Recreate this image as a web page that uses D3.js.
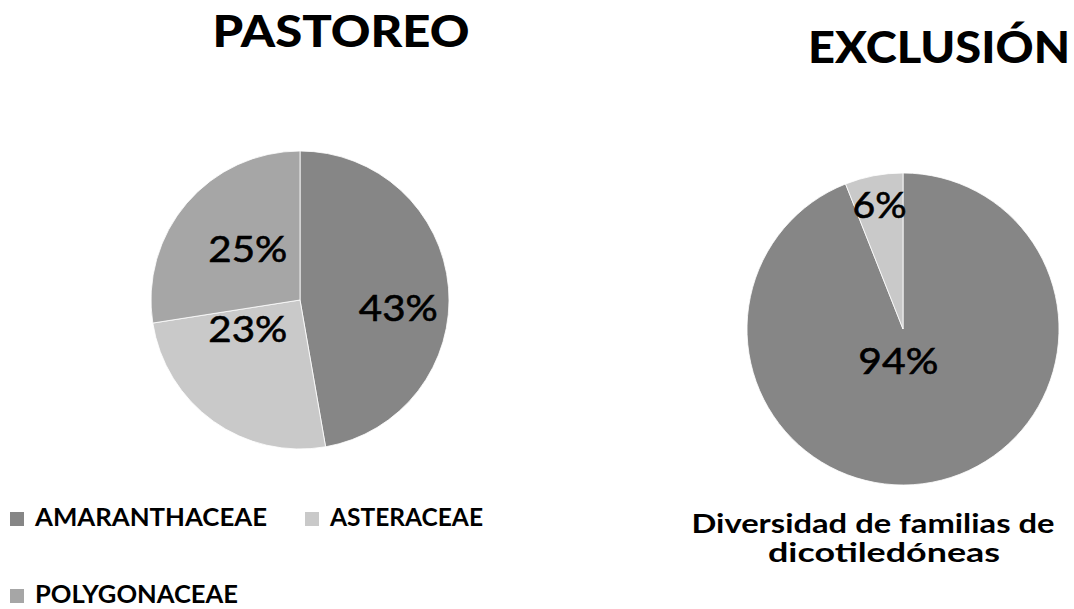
<!DOCTYPE html>
<html>
<head>
<meta charset="utf-8">
<script src="https://cdn.jsdelivr.net/npm/d3@7"></script>
<style>
  body { margin: 0; background: #fff; }
  svg text { font-family: Lato, "Open Sans", sans-serif; fill: #000; }
</style>
</head>
<body>
<svg id="chart" width="1074" height="609"></svg>
<script>
// data
var families = ["AMARANTHACEAE", "ASTERACEAE", "POLYGONACEAE"]
var pastoreo = [43, 23, 25]
var exclusion = [94, 6, 0]
var titles = ["PASTOREO", "EXCLUSIÓN"]
var subtitle = ["Diversidad de familias de", "dicotiledóneas"]

// layout
var colors = d3.scaleOrdinal().domain(families).range(["#868686", "#c9c9c9", "#a6a6a6"])
var pies = [
  {vals: pastoreo, cx: 300, cy: 300, r: 149, title: titles[0], tx: 341, ty: 47, tw: 257,
   lab: [[0.66, 0.05, 79], [-0.35, 0.19, 79], [-0.35, -0.35, 79]]},
  {vals: exclusion, cx: 903, cy: 329, r: 156, title: titles[1], tx: 939, ty: 63, tw: 262,
   lab: [[-0.03, 0.2, 80], [-0.15, -0.8, 54], null]}
]

var svg = d3.select('#chart')
var pie = d3.pie().sort(null).value(function(d) { return d.v })

pies.forEach(function(p) {
  var data = p.vals.map(function(v, i) { return {v: v, k: families[i]} })
  var arc = d3.arc().innerRadius(0).outerRadius(p.r)
  var g = svg.append('g').attr('transform', 'translate(' + p.cx + ',' + p.cy + ')')
  var arcs = pie(data)
  g.selectAll('path').data(arcs.filter(function(a) { return a.data.v > 0 }))
    .enter().append('path')
      .attr('d', arc)
      .attr('fill', function(a) { return colors(a.data.k) })
      .attr('stroke', '#fff')
      .attr('stroke-width', 0.8)
  //labels, placed like excel's best fit (offsets in radius units)
  arcs.forEach(function(a, i) {
    if (!p.lab[i] || a.data.v <= 0) return
    g.append('text')
      .attr('x', p.lab[i][0] * p.r)
      .attr('y', p.lab[i][1] * p.r)
      .attr('text-anchor', 'middle')
      .attr('dominant-baseline', 'central')
      .attr('font-size', 36)
      .attr('stroke', '#000').attr('stroke-width', 0.6)
      .attr('textLength', p.lab[i][2])
      .attr('lengthAdjust', 'spacingAndGlyphs')
      .text(a.data.v + '%')
  })
  svg.append('text')
    .attr('x', p.tx).attr('y', p.ty)
    .attr('text-anchor', 'middle')
    .attr('font-size', 44).attr('font-weight', 900)
    .attr('textLength', p.tw).attr('lengthAdjust', 'spacingAndGlyphs')
    .text(p.title)
})

// legend
var legPos = [[10, 526, 232], [305, 526, 153], [10, 603, 203]]
families.forEach(function(f, i) {
  var lp = legPos[i]
  svg.append('rect')
    .attr('x', lp[0]).attr('y', lp[1] - 14)
    .attr('width', 14).attr('height', 14)
    .attr('fill', colors(f))
  svg.append('text')
    .attr('x', lp[0] + 25).attr('y', lp[1])
    .attr('font-size', 24).attr('font-weight', 700)
    .attr('textLength', lp[2]).attr('lengthAdjust', 'spacingAndGlyphs')
    .text(f)
})

// bottom caption
var subPos = [[873, 533, 363], [884, 562, 232]]
subtitle.forEach(function(s, i) {
  svg.append('text')
    .attr('x', subPos[i][0]).attr('y', subPos[i][1])
    .attr('text-anchor', 'middle')
    .attr('font-size', 26).attr('font-weight', 700)
    .attr('textLength', subPos[i][2]).attr('lengthAdjust', 'spacingAndGlyphs')
    .text(s)
})
</script>
</body>
</html>
